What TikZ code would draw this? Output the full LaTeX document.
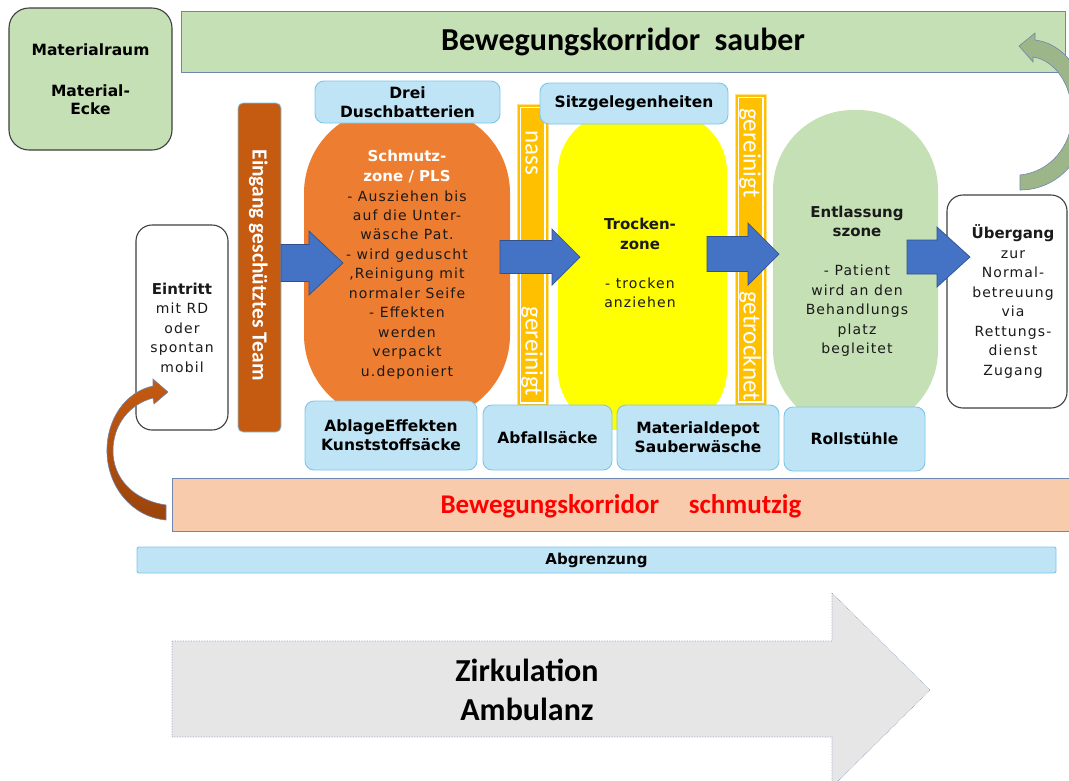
\documentclass[tikz,border=0pt]{standalone}
\usepackage{fontspec}
\setmainfont{DejaVu Sans}
\newfontfamily\widefont[LetterSpace=8]{DejaVu Sans}
\newfontfamily\calib{Carlito}
\definecolor{mint}{HTML}{C5E0B4}
\definecolor{rust}{HTML}{C55A11}
\definecolor{rustdark}{HTML}{9A440C}
\definecolor{tangerine}{HTML}{ED7D31}
\definecolor{gold}{HTML}{FFC000}
\definecolor{goldedge}{HTML}{FFE08A}
\definecolor{lemon}{HTML}{FFFF00}
\definecolor{skyfill}{HTML}{BEE4F6}
\definecolor{skyedge}{HTML}{7DC6EA}
\definecolor{flowblue}{HTML}{4472C4}
\definecolor{flowedge}{HTML}{2F528F}
\definecolor{peach}{HTML}{F8CBAD}
\definecolor{steel}{HTML}{6F86B0}
\definecolor{ashgray}{HTML}{E7E6E6}
\definecolor{sage}{HTML}{9CB68A}
\definecolor{darkframe}{HTML}{3F3F3F}
\definecolor{alertred}{HTML}{FF0000}
\definecolor{ink}{HTML}{1A1A1A}
% bold heading line inside letter-spaced body text
\newcommand\hd[1]{{\normalfont\bfseries\fontsize{15}{19.5}\selectfont #1}}
\begin{document}
\begin{tikzpicture}[x=1pt,y=-1pt,
  plainbox/.style={inner sep=0pt, align=center},
  lbl/.style={font=\bfseries\fontsize{15.5}{19}\selectfont},
  body/.style={font=\widefont\fontsize{14}{19.5}\selectfont, align=center, inner sep=0pt, text=ink},
  skybox/.style={plainbox, lbl, draw=skyedge, fill=skyfill, line width=0.9pt, rounded corners=9pt},
  roundframe/.style={plainbox, draw=darkframe, line width=1.1pt, rounded corners=16pt},
  zonepill/.style={plainbox, draw=none},
  goldbar/.style={plainbox, draw=goldedge, fill=gold, line width=0.8pt},
  bartext/.style={rotate=-90, inner sep=0pt, text=white, font=\calib\fontsize{25}{25}\selectfont},
  flowarrow/.style={fill=flowblue, draw=flowedge, line width=0.7pt},
]
\useasboundingbox (0,0) rectangle (1069,780);

% ---------- top row ----------
\node[roundframe, fill=mint, rounded corners=20pt, minimum width=163pt, minimum height=142pt,
      font=\bfseries\fontsize{15.5}{18}\selectfont] (matraum) at (90.5,79) {Materialraum\\[23pt]Material-\\Ecke};
\node[plainbox, draw=steel, fill=mint, line width=0.8pt, minimum width=884pt, minimum height=61pt,
      font=\calib\bfseries\fontsize{32}{32}\selectfont] (sauber) at (623,41.5) {Bewegungskorridor\hspace{0.45em}sauber};

% ---------- zones ----------
\node[zonepill, fill=tangerine, rounded corners=85pt, minimum width=206pt, minimum height=312pt] (schmutz) at (407,264) {};
\node[zonepill, fill=lemon, rounded corners=60pt, minimum width=169pt, minimum height=318pt] (trocken) at (642.5,271) {};
\node[zonepill, fill=mint, rounded corners=80pt, minimum width=165pt, minimum height=320pt] (entlass) at (855.5,270) {};

\node[body] (schmutztxt) at (407,265) {\hd{\textcolor{white}{Schmutz-}}\\
  \hd{\textcolor{white}{zone / PLS}}\\
  - Ausziehen bis\\
  auf die Unter-\\
  wäsche Pat.\\
  - wird geduscht\\
  ,Reinigung mit\\
  normaler Seife\\
  - Effekten\\
  werden\\
  verpackt\\
  u.deponiert};
\node[body] (trockentxt) at (640,263) {\hd{Trocken-}\\\hd{zone}\\[19.5pt]- trocken\\anziehen};
\node[body] (entlasstxt) at (857,281.5) {\hd{Entlassung}\\\hd{szone}\\[19.5pt]- Patient\\wird an den\\Behandlungs\\platz\\begleitet};

% ---------- separating bars ----------
\node[goldbar, minimum width=31pt, minimum height=302pt] (nassbar) at (532.5,255) {};
\node[goldbar, minimum width=31pt, minimum height=311pt] (drybar) at (750.5,249.5) {};
\draw[white, line width=1.2pt] ([shift={(3.5,3.5)}]nassbar.north west) rectangle ([shift={(-3.5,-3.5)}]nassbar.south east);
\draw[white, line width=1.2pt] ([shift={(3.5,3.5)}]drybar.north west) rectangle ([shift={(-3.5,-3.5)}]drybar.south east);
\node[bartext, anchor=base west] (nasstxt) at (525.5,130) {nass};
\node[bartext, anchor=base east] (reintxt) at (525.5,396) {gereinigt};
\node[bartext, anchor=base west] (reintxtb) at (743.5,108) {gereinigt};
\node[bartext, anchor=base east] (drytxt) at (743.5,401) {getrocknet};

% ---------- label boxes ----------
\node[skybox, minimum width=185pt, minimum height=42pt] (dusch) at (407.5,102) {Drei\\Duschbatterien};
\node[skybox, minimum width=188pt, minimum height=41pt] (sitz) at (634,103.5) {Sitzgelegenheiten};
\node[skybox, minimum width=172pt, minimum height=69pt] (ablage) at (391,435.5) {AblageEffekten\\Kunststoffsäcke};
\node[skybox, minimum width=129pt, minimum height=65pt] (abfall) at (547.5,437.5) {Abfallsäcke};
\node[skybox, minimum width=162pt, minimum height=65pt] (depot) at (698,437.5) {Materialdepot\\Sauberwäsche};
\node[skybox, minimum width=141pt, minimum height=64pt] (rollst) at (854.5,439) {Rollstühle};

% ---------- entry side ----------
\node[plainbox, fill=rust, draw=skyedge, line width=0.8pt, rounded corners=5pt, minimum width=43pt, minimum height=329pt] (eingang) at (259.5,267.5) {};
\node[rotate=-90, anchor=base, inner sep=0pt, text=white, font=\calib\bfseries\fontsize{21.5}{21.5}\selectfont] (eingangtxt) at (252.5,265) {Eingang geschütztes\ Team};
\node[roundframe, fill=white, minimum width=92pt, minimum height=205pt, body] (eintritt) at (182,327.5) {\hd{Eintritt}\\mit RD\\oder\\spontan\\mobil};

% ---------- exit side ----------
\node[roundframe, fill=white, minimum width=120pt, minimum height=213pt] (uebergang) at (1007,301.5) {};
\node[body] (uebergangtxt) at (1013,301.5) {\hd{Übergang}\\zur\\Normal-\\betreuung\\via\\Rettungs-\\dienst\\Zugang};

% ---------- flow arrows ----------
\draw[flowarrow] (281,244.5) -- (309,244.5) -- (309,231) -- (343,263) -- (309,295) -- (309,281.5) -- (281,281.5) -- cycle;
\draw[flowarrow] (500,240.5) -- (552,240.5) -- (552,229) -- (580,257) -- (552,285) -- (552,273.5) -- (500,273.5) -- cycle;
\draw[flowarrow] (707,236.5) -- (748,236.5) -- (748,223) -- (779,254) -- (748,285) -- (748,271.5) -- (707,271.5) -- cycle;
\draw[flowarrow] (907,240) -- (937,240) -- (937,227) -- (970,257) -- (937,287) -- (937,274) -- (907,274) -- cycle;

% ---------- lower corridor ----------
\node[plainbox, fill=peach, draw=steel, line width=0.8pt, minimum width=903pt, minimum height=53pt] (schmutzig) at (623.5,504.5) {};
\node[font=\calib\bfseries\fontsize{27}{27}\selectfont, text=alertred, inner sep=0pt] (schmutzigtxt) at (621,506) {Bewegungskorridor\hspace{1.1em}schmutzig};
\node[skybox, rounded corners=2pt, minimum width=919pt, minimum height=26pt, font=\bfseries\fontsize{15}{15}\selectfont] (abgrenzung) at (596.5,560) {Abgrenzung};

% ---------- circulation arrow ----------
\draw[fill=ashgray, draw=steel!80, line width=0.6pt, densely dotted]
  (172,641) -- (832,641) -- (832,593) -- (930,690) -- (832,787) -- (832,737) -- (172,737) -- cycle;
\node[font=\calib\bfseries\fontsize{32}{39}\selectfont, align=center, inner sep=0pt] (zirk) at (527,690) {Zirkulation\\Ambulanz};

% ---------- curved arrows ----------
\draw[top color=rust, bottom color=rustdark, draw=steel, line width=0.6pt]
  (166,520) -- (166,505)
  .. controls (132,500) and (113,477) .. (113,451)
  .. controls (113,424) and (130,404) .. (153,398)
  -- (154,404) -- (168,392) -- (153,379) -- (153,386)
  .. controls (125,392) and (106,420) .. (107,453)
  .. controls (108,487) and (132,517) .. (166,520) -- cycle;
\draw[fill=sage, draw=steel, line width=0.6pt]
  (1020,190) -- (1020,175)
  .. controls (1050,172) and (1072,146) .. (1072,115)
  .. controls (1072,85) and (1055,60) .. (1033,57)
  -- (1033,62) -- (1019,46) -- (1035,33) -- (1035,40)
  .. controls (1068,44) and (1088,80) .. (1088,115)
  .. controls (1088,155) and (1060,190) .. (1020,190) -- cycle;
\end{tikzpicture}
\end{document}
